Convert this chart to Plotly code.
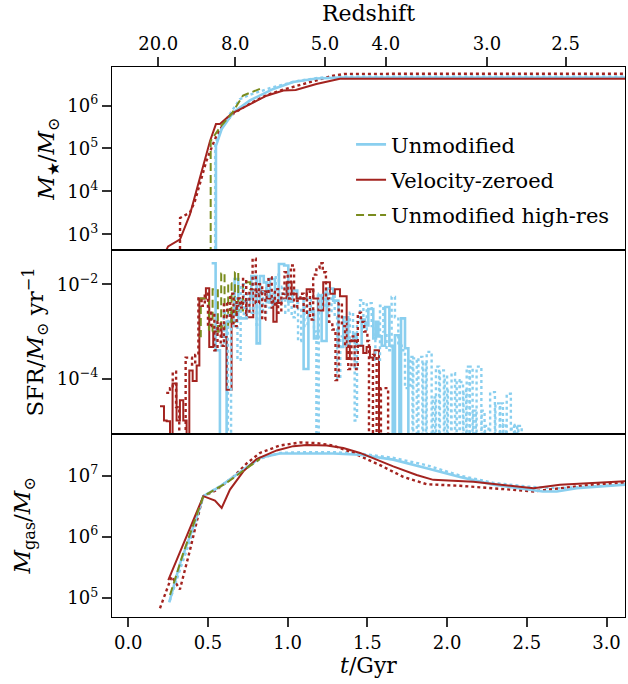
import plotly.graph_objects as go
from plotly.subplots import make_subplots

# ---------------- data ----------------
# Stellar mass [Msun] vs time [Gyr]; 0 = no stars yet (clipped to panel bottom)
mstar_unmod_t = [0.55, 0.55, 0.586, 0.659, 0.763, 0.91, 1.035, 1.18, 1.33, 1.50, 2.0, 2.5, 3.13]
mstar_unmod = [0, 1.15e5, 2.85e5, 6.9e5, 1.32e6, 2.45e6, 3.55e6, 4.27e6, 4.5e6, 4.5e6, 4.5e6, 4.5e6, 4.5e6]
mstar_unmod_dot_t = [0.545, 0.545, 0.60, 0.66, 0.70, 0.76, 0.90, 1.05, 1.20, 1.35, 3.13]
mstar_unmod_dot = [0, 1.26e5, 4.0e5, 8.9e5, 1.41e6, 1.78e6, 2.63e6, 3.7e6, 4.47e6, 4.8e6, 4.8e6]
mstar_vz_t = [0.235, 0.25, 0.325, 0.387, 0.45, 0.513, 0.55, 0.575, 0.649, 0.743, 0.868, 0.973, 1.05, 1.18, 1.328, 1.5, 3.13]
mstar_vz = [4.0e2, 5.2e2, 7.6e2, 2.9e3, 2.1e4, 1.5e5, 3.7e5, 3.7e5, 6.5e5, 1.0e6, 1.7e6, 2.25e6, 2.3e6, 3.2e6, 4.2e6, 4.25e6, 4.25e6]
mstar_vz_dot_t = [0.323, 0.325, 0.387, 0.418, 0.49, 0.544, 0.596, 0.659, 0.75, 0.87, 0.98, 1.10, 1.20, 1.286, 1.36, 3.13]
mstar_vz_dot = [0, 2.4e3, 3.2e3, 5.9e3, 5.1e4, 1.66e5, 3.7e5, 6.5e5, 1.05e6, 1.78e6, 2.4e6, 3.16e6, 3.98e6, 5.0e6, 5.5e6, 5.55e6]
mstar_hr_t = [0.517, 0.517, 0.575, 0.649, 0.72, 0.826]
mstar_hr = [0, 1.5e5, 3.1e5, 6.5e5, 1.72e6, 2.45e6]

# Star formation rate [Msun/yr], step histograms (left edge of each bin); 0 = none
sfr_unmod_t = [0.523, 0.548, 0.575, 0.617, 0.648, 0.667, 0.69, 0.742, 0.772, 0.805, 0.826, 0.85, 0.868,
               0.889, 0.92, 0.945, 0.978, 1.004, 1.03, 1.06, 1.10, 1.13, 1.165, 1.19, 1.213, 1.244,
               1.286, 1.318, 1.349, 1.38, 1.412, 1.433, 1.464, 1.485, 1.506, 1.537, 1.554, 1.569,
               1.59, 1.611, 1.638, 1.659, 1.673, 1.701, 1.711, 1.736, 1.757, 1.78]
sfr_unmod = [2.8e-2, 4.0e-4, 0, 1.6e-3, 2.6e-3, 1.3e-2, 1.9e-3, 4.9e-3, 1.5e-2, 5.6e-4, 1.5e-2, 1.1e-2, 4.2e-3,
             1.3e-2, 4.2e-3, 2.7e-2, 2.5e-2, 4.3e-3, 7.4e-3, 5.0e-3, 1.6e-4, 2.6e-3, 7.1e-4, 5.8e-3, 6.3e-4, 8.1e-3,
             4.5e-3, 4.7e-4, 2.0e-3, 6.3e-4, 8.9e-4, 5.0e-4, 1.8e-3, 1.35e-3, 3.0e-3, 7.1e-4, 1.6e-3, 7.9e-4,
             5.0e-4, 3.3e-3, 5.0e-4, 0, 8.3e-4, 0, 1.9e-3, 4.4e-4, 0, 0]
sfr_unmod_dot_t = [0.575, 0.60, 0.625, 0.645, 0.665, 0.685, 0.705, 0.725, 0.745, 0.765, 0.785, 0.805, 0.825,
                   0.845, 0.865, 0.885, 0.905, 0.925, 0.945, 0.965, 0.985, 1.005, 1.025, 1.045, 1.065,
                   1.085, 1.105, 1.125, 1.145, 1.165, 1.18, 1.195, 1.215, 1.235, 1.255, 1.275, 1.295,
                   1.31, 1.33, 1.35, 1.37, 1.39, 1.41, 1.42, 1.435, 1.454, 1.475, 1.496, 1.527, 1.55,
                   1.579, 1.60, 1.62, 1.652, 1.673, 1.694, 1.715, 1.736, 1.768, 1.783, 1.788, 1.81,
                   1.82, 1.845, 1.85, 1.868, 1.872, 1.903, 1.91, 1.925, 1.93, 1.95, 1.955, 1.98, 1.985,
                   2.0, 2.005, 2.025, 2.028, 2.05, 2.06, 2.078, 2.08, 2.10, 2.103, 2.12, 2.123, 2.14,
                   2.143, 2.16, 2.164, 2.18, 2.185, 2.215, 2.217, 2.235, 2.238, 2.26, 2.27, 2.30, 2.303,
                   2.33, 2.333, 2.35, 2.353, 2.37, 2.374, 2.40, 2.405, 2.42, 2.426, 2.44, 2.447, 2.468]
sfr_unmod_dot = [5.0e-4, 2.5e-3, 0, 1.3e-3, 5.0e-3, 2.5e-4, 1.0e-2, 2.0e-3, 6.3e-3, 2.5e-3, 1.3e-2, 1.3e-3, 7.9e-3,
                 2.5e-3, 1.3e-2, 3.2e-3, 6.3e-3, 1.6e-2, 4.5e-3, 8.9e-3, 2.5e-3, 5.0e-3, 2.0e-3, 4.0e-3, 6.3e-4,
                 3.2e-3, 1.3e-3, 5.0e-3, 2.8e-3, 1.0e-3, 0, 6.3e-3, 3.2e-3, 7.9e-3, 2.5e-3, 5.6e-3, 2.0e-3,
                 1.0e-4, 7.9e-4, 1.6e-3, 5.0e-4, 2.5e-3, 7.9e-4, 1.3e-5, 1.6e-3, 4.6e-3, 1.1e-3, 4.0e-3, 1.3e-3, 2.5e-4,
                 3.5e-3, 1.0e-3, 4.0e-4, 5.4e-3, 2.0e-3, 5.0e-4, 4.0e-4, 6.3e-5, 2.9e-4, 0, 2.7e-4, 0,
                 2.9e-4, 0, 2.2e-4, 0, 3.7e-4, 0, 4.0e-5, 0, 1.8e-4, 0, 1.5e-4, 0, 1.1e-4,
                 0, 5.6e-5, 0, 1.3e-4, 0, 9.3e-5, 0, 8.5e-5, 0, 5.6e-5, 0, 1.8e-4, 0,
                 1.8e-4, 0, 2.1e-5, 0, 1.8e-4, 0, 2.1e-5, 0, 1.0e-5, 0, 5.2e-5, 0, 3.0e-5,
                 0, 3.0e-5, 0, 1.1e-5, 0, 4.8e-5, 0, 1.0e-5, 0, 1.05e-5, 0, 1.0e-5, 0]
sfr_vz_t = [0.199, 0.224, 0.241, 0.262, 0.278, 0.303, 0.324, 0.345, 0.366, 0.383, 0.404, 0.429, 0.446,
            0.487, 0.508, 0.533, 0.565, 0.586, 0.617, 0.648, 0.680, 0.711, 0.742, 0.784, 0.805, 0.836,
            0.868, 0.910, 0.931, 0.962, 0.993, 1.025, 1.056, 1.119, 1.161, 1.192, 1.223, 1.265, 1.296,
            1.328, 1.370, 1.39, 1.433, 1.474, 1.495, 1.516, 1.545, 1.573, 1.60]
sfr_vz = [2.6e-5, 1.3e-5, 1.26e-5, 0, 7.9e-5, 1.3e-5, 3.5e-5, 1.3e-5, 0, 1.5e-4, 8.9e-5, 1.9e-4, 5.0e-3,
          8.3e-3, 4.7e-4, 1.0e-3, 1.3e-3, 7.6e-4, 5.8e-5, 2.5e-3, 3.5e-3, 4.5e-3, 2.0e-3, 7.6e-3, 6.3e-3, 7.1e-3,
          5.0e-3, 1.6e-3, 4.0e-3, 5.0e-3, 1.1e-2, 6.3e-3, 5.0e-3, 7.9e-3, 5.0e-3, 2.8e-3, 1.1e-2, 6.3e-3, 7.9e-3,
          5.6e-3, 2.6e-4, 6.3e-4, 5.0e-4, 3.5e-4, 4.7e-4, 2.8e-4, 4.0e-4, 0, 0]
sfr_vz_dot_t = [0.238, 0.262, 0.279, 0.30, 0.32, 0.36, 0.40, 0.42, 0.44, 0.46, 0.48, 0.50, 0.52, 0.54, 0.56,
                0.58, 0.60, 0.62, 0.64, 0.66, 0.68, 0.70, 0.72, 0.74, 0.76, 0.78, 0.80, 0.82, 0.84, 0.86,
                0.88, 0.90, 0.92, 0.94, 0.96, 0.98, 1.00, 1.02, 1.04, 1.06, 1.08, 1.10, 1.12, 1.14, 1.16,
                1.18, 1.20, 1.22, 1.24, 1.26, 1.28, 1.30, 1.32, 1.34, 1.36, 1.38, 1.40, 1.42, 1.44, 1.46,
                1.48, 1.50, 1.51, 1.535, 1.558, 1.585, 1.63, 1.66]
sfr_vz_dot = [5.0e-5, 6.3e-5, 1.4e-4, 2.5e-5, 0, 2.8e-4, 2.0e-4, 3.2e-4, 5.0e-3, 3.5e-3, 6.3e-3, 1.3e-3, 2.5e-3, 4.0e-4, 1.6e-3,
              5.0e-4, 4.0e-3, 2.0e-3, 6.3e-3, 1.3e-3, 5.0e-3, 3.2e-3, 1.3e-2, 2.5e-3, 7.9e-3, 3.5e-2, 4.0e-3, 1.0e-2, 1.8e-3, 6.3e-3,
              1.4e-2, 3.2e-3, 7.9e-3, 2.5e-3, 6.3e-3, 1.8e-2, 5.0e-3, 2.5e-2, 3.2e-3, 4.5e-3, 6.3e-3, 2.5e-3, 7.1e-3, 1.8e-3, 1.6e-2,
              2.2e-2, 2.8e-2, 1.8e-2, 5.0e-3, 1.6e-3, 1.1e-3, 9.3e-5, 4.0e-3, 1.3e-3, 5.0e-4, 1.6e-4, 7.9e-4, 1.6e-4, 2.5e-3, 1.6e-3,
              1.0e-3, 6.3e-4, 0, 3.2e-4, 0, 6.3e-5, 0, 0]
sfr_hr_t = [0.444, 0.455, 0.48, 0.506, 0.529, 0.562, 0.583, 0.604, 0.627, 0.648, 0.669, 0.69, 0.72, 0.74, 0.765, 0.785]
sfr_hr = [7.9e-4, 5.0e-3, 4.5e-3, 1.0e-3, 7.9e-3, 1.0e-3, 1.7e-2, 1.1e-3, 1.05e-2, 1.6e-3, 1.8e-2, 2.8e-3, 1.0e-2, 1.1e-2, 7.9e-3, 7.9e-3]

# Gas mass [Msun]
mgas_unmod_t = [0.257, 0.324, 0.408, 0.471, 0.575, 0.722, 0.826, 0.951, 1.077, 1.286, 1.454, 1.662, 1.872, 2.081, 2.29, 2.50, 2.60, 2.688, 2.813, 3.13]
mgas_unmod = [8.5e4, 3.6e5, 1.45e6, 4.6e6, 6.6e6, 1.23e7, 1.95e7, 2.29e7, 2.29e7, 2.29e7, 2.19e7, 1.82e7, 1.32e7, 9.5e6, 7.1e6, 5.9e6, 5.5e6, 5.5e6, 6.2e6, 7.1e6]
mgas_unmod_dot_t = [0.26, 0.33, 0.41, 0.471, 0.58, 0.72, 0.83, 0.95, 1.08, 1.30, 1.45, 1.66, 1.87, 2.08, 2.29, 2.50, 2.70, 2.90, 3.13]
mgas_unmod_dot = [8.9e4, 3.2e5, 1.26e6, 4.6e6, 6.8e6, 1.2e7, 1.9e7, 2.34e7, 2.4e7, 2.4e7, 2.29e7, 1.95e7, 1.48e7, 1.0e7, 7.6e6, 6.6e6, 6.2e6, 6.6e6, 7.2e6]
mgas_vz_t = [0.251, 0.335, 0.471, 0.544, 0.586, 0.638, 0.722, 0.805, 0.931, 1.035, 1.119, 1.245, 1.349, 1.454, 1.579, 1.662, 1.809, 1.913, 2.164, 2.332, 2.542, 2.708, 2.959, 3.13]
mgas_vz = [1.95e5, 6.5e5, 4.6e6, 3.9e6, 2.95e6, 5.9e6, 1.17e7, 1.86e7, 2.57e7, 3.02e7, 3.16e7, 3.09e7, 2.82e7, 2.34e7, 1.7e7, 1.41e7, 1.02e7, 8.5e6, 7.9e6, 7.1e6, 6.2e6, 7.1e6, 7.8e6, 8.1e6]
mgas_vz_dot_t = [0.199, 0.272, 0.324, 0.387, 0.45, 0.471, 0.55, 0.659, 0.743, 0.826, 0.951, 1.077, 1.18, 1.286, 1.412, 1.495, 1.579, 1.725, 1.872, 2.081, 2.332, 2.542, 2.708, 2.917, 3.13]
mgas_vz_dot = [6.8e4, 2.24e5, 1.38e5, 6.0e5, 2.95e6, 4.6e6, 5.75e6, 9.5e6, 1.58e7, 2.34e7, 3.09e7, 3.47e7, 3.39e7, 3.09e7, 2.34e7, 1.86e7, 1.48e7, 9.5e6, 7.2e6, 6.8e6, 6.0e6, 5.5e6, 6.2e6, 7.1e6, 7.6e6]
mgas_hr_t = [0.262, 0.345, 0.471, 0.617, 0.743, 0.826]
mgas_hr = [1.12e5, 5.4e5, 4.6e6, 7.6e6, 1.32e7, 1.86e7]

# Axis tick labels
redshift_labels = ["20.0", "8.0", "5.0", "4.0", "3.0", "2.5"]
redshift_times = [0.188, 0.671, 1.234, 1.616, 2.25, 2.743]
t_ticks = [0.0, 0.5, 1.0, 1.5, 2.0, 2.5, 3.0]

# ---------------- styling ----------------
BLUE = "#8ACFEF"
RED = "#A3231F"
GREEN = "#7A8C1E"
FONT = "DejaVu Serif"


def floor(vals, f):
    # log axes clip zeros to the panel bottom (like matplotlib's nonpositive='clip')
    return [v if v > 0 else f for v in vals]


fig = make_subplots(rows=3, cols=1, shared_xaxes=True, vertical_spacing=0)

styles = {
    "unmod": dict(color=BLUE, width=2.6),
    "unmod_dot": dict(color=BLUE, width=2.4, dash="dot"),
    "vz": dict(color=RED, width=2.0),
    "vz_dot": dict(color=RED, width=2.4, dash="dot"),
    "hr": dict(color=GREEN, width=2.0, dash="8px,4px"),
}
names = {"unmod": "Unmodified", "vz": "Velocity-zeroed", "hr": "Unmodified high-res"}

panels = [
    (1, 1.0, "linear", {
        "unmod_dot": (mstar_unmod_dot_t, mstar_unmod_dot), "vz_dot": (mstar_vz_dot_t, mstar_vz_dot),
        "unmod": (mstar_unmod_t, mstar_unmod), "vz": (mstar_vz_t, mstar_vz), "hr": (mstar_hr_t, mstar_hr)}),
    (2, 1e-9, "hv", {
        "unmod": (sfr_unmod_t, sfr_unmod), "vz": (sfr_vz_t, sfr_vz), "hr": (sfr_hr_t, sfr_hr),
        "unmod_dot": (sfr_unmod_dot_t, sfr_unmod_dot), "vz_dot": (sfr_vz_dot_t, sfr_vz_dot)}),
    (3, 1.0, "linear", {
        "unmod_dot": (mgas_unmod_dot_t, mgas_unmod_dot), "vz_dot": (mgas_vz_dot_t, mgas_vz_dot),
        "unmod": (mgas_unmod_t, mgas_unmod), "vz": (mgas_vz_t, mgas_vz), "hr": (mgas_hr_t, mgas_hr)}),
]

for row, fl, shape, series in panels:
    for key, (tx, vy) in series.items():
        show = row == 1 and key in names
        fig.add_trace(go.Scatter(
            x=tx, y=floor(vy, fl), mode="lines", line=dict(shape=shape, **styles[key]),
            name=names.get(key, key), showlegend=show, legendgroup=key,
            legendrank={"unmod": 1, "vz": 2, "hr": 3}.get(key, 10), hoverinfo="skip"),
            row=row, col=1)

xr = [-0.102, 3.116]
axis_common = dict(showline=True, linecolor="black", linewidth=1.3, mirror=True, showgrid=False,
                   zeroline=False, tickcolor="#333", tickwidth=1.5, ticklen=9, automargin=False,
                   tickfont=dict(family=FONT, size=18, color="black"))

fig.update_xaxes(range=xr, **axis_common)
fig.update_yaxes(type="log", **axis_common, ticks="outside")

# top panel: redshift axis on top
fig.update_xaxes(row=1, col=1, side="top", ticks="outside", tickvals=redshift_times, ticktext=redshift_labels,
                 showticklabels=True,
                 title=dict(text="Redshift", font=dict(family=FONT, size=22, color="black"), standoff=4))
fig.update_xaxes(row=2, col=1, ticks="", showticklabels=False)
fig.update_xaxes(row=3, col=1, ticks="outside", tickvals=t_ticks, ticktext=[f"{v:.1f}" for v in t_ticks],
                 showticklabels=True,
                 title=dict(text="<i>t</i>/Gyr", font=dict(family=FONT, size=22, color="black"), standoff=2))

ytitle_font = dict(family=FONT, size=23, color="black")
fig.update_yaxes(row=1, col=1, range=[2.625, 6.9], tickvals=[1e3, 1e4, 1e5, 1e6],
                 ticktext=["10<sup>3</sup>", "10<sup>4</sup>", "10<sup>5</sup>", "10<sup>6</sup>"],
                 title=dict(text="<i>M</i><sub>★</sub>/<i>M</i><sub>⊙</sub>", font=ytitle_font, standoff=6))
fig.update_yaxes(row=2, col=1, range=[-5.165, -1.28], tickvals=[1e-4, 1e-2],
                 ticktext=["10<sup>−4</sup>", "10<sup>−2</sup>"],
                 title=dict(text="SFR/<i>M</i><sub>⊙</sub> yr<sup>−1</sup>", font=ytitle_font, standoff=6))
fig.update_yaxes(row=3, col=1, range=[4.689, 7.684], tickvals=[1e5, 1e6, 1e7],
                 ticktext=["10<sup>5</sup>", "10<sup>6</sup>", "10<sup>7</sup>"],
                 title=dict(text="<i>M</i><sub>gas</sub>/<i>M</i><sub>⊙</sub>", font=ytitle_font, standoff=30))

fig.update_layout(
    width=628, height=684,
    margin=dict(l=112, r=3, t=67, b=67),
    paper_bgcolor="white", plot_bgcolor="white",
    font=dict(family=FONT, size=18, color="black"),
    legend=dict(x=0.466, y=0.896, xanchor="left", yanchor="top", bgcolor="rgba(0,0,0,0)",
                font=dict(family=FONT, size=21, color="black"), traceorder="grouped",
                tracegroupgap=5, itemwidth=30),
)

fig.write_html("out.html", config={"displayModeBar": False},
               post_script="document.body.style.margin='0px';")
